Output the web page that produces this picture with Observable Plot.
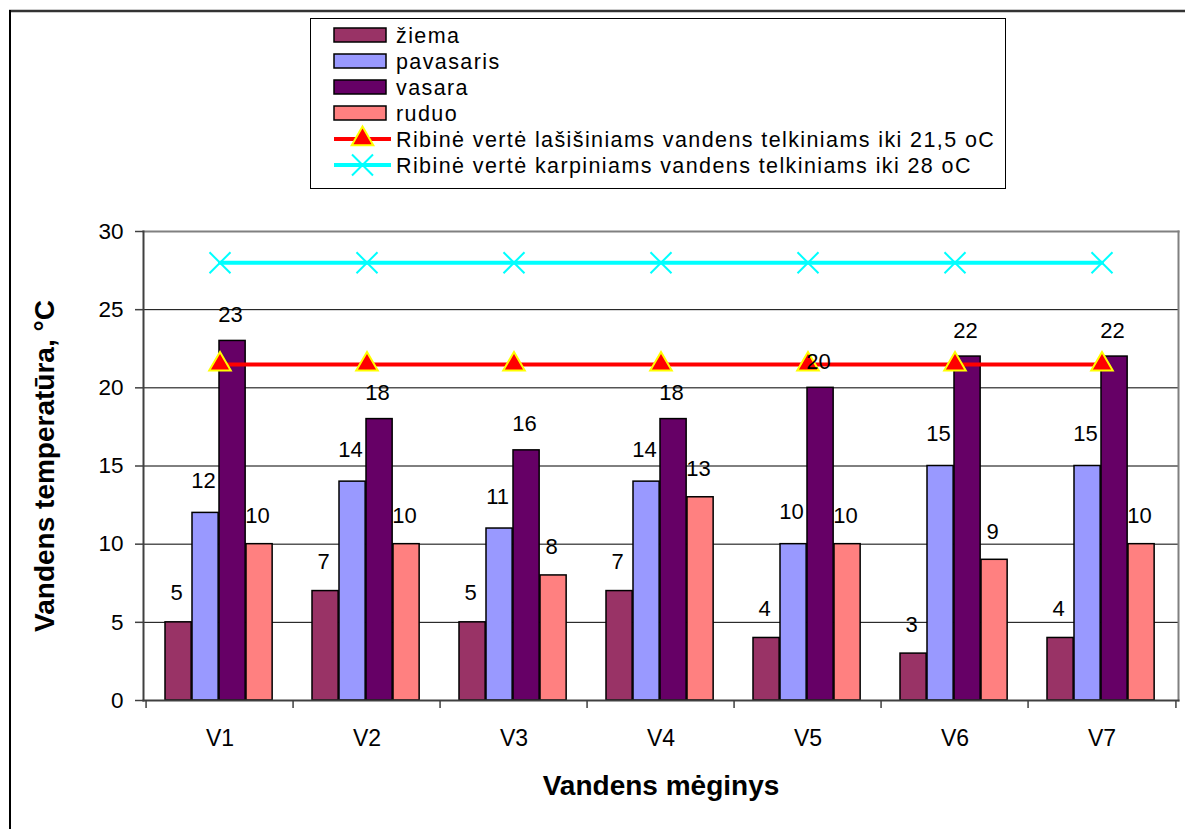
<!DOCTYPE html>
<html>
<head>
<meta charset="utf-8">
<script src="https://cdn.jsdelivr.net/npm/d3@7"></script>
<script src="https://cdn.jsdelivr.net/npm/@observablehq/plot@0.6"></script>
<style>
  html, body { margin: 0; padding: 0; background: #fff; }
  #wrap { position: relative; width: 1185px; height: 829px; overflow: hidden; font-family: "Liberation Sans", Arial, sans-serif; }
  #wrap svg { position: absolute; left: 0; top: 0; }
</style>
</head>
<body>
<div id="wrap"></div>
<script>
// ---- data ----
const categories = ["V1", "V2", "V3", "V4", "V5", "V6", "V7"];
const seasons = ["žiema", "pavasaris", "vasara", "ruduo"];
const ziema = [5, 7, 5, 7, 4, 3, 4];
const pavasaris = [12, 14, 11, 14, 10, 15, 15];
const vasara = [23, 18, 16, 18, 20, 22, 22];
const ruduo = [10, 10, 8, 13, 10, 9, 10];
const salmonLimit = 21.5;
const carpLimit = 28;
const salmonLabel = "Ribinė vertė lašišiniams vandens telkiniams iki 21,5 oC";
const carpLabel = "Ribinė vertė karpiniams vandens telkiniams iki 28 oC";
const yTicks = [0, 5, 10, 15, 20, 25, 30];
const yTitle = "Vandens temperatūra, °C";
const xTitle = "Vandens mėginys";

// ---- styles ----
const seasonColors = ["#993366", "#9999FF", "#660066", "#FF8080"];
const labelDy = [-29, -32, -26, -28];
const W = 1185, H = 829, mL = 143, mR = 7, mT = 231, mB = 129;
const bw = (W - mL - mR) / categories.length;
const barStart = 19, barW = 27;

const seriesValues = [ziema, pavasaris, vasara, ruduo];
const seriesData = seriesValues.map((vals, s) =>
  categories.map((c, i) => ({ cat: c, season: seasons[s], value: vals[i] })));
const salmonData = categories.map(c => ({ cat: c, value: salmonLimit }));
const carpData = categories.map(c => ({ cat: c, value: carpLimit }));

const barMarks = [];
const labelMarks = [];
seriesData.forEach((data, s) => {
  const left = barStart + barW * s;
  barMarks.push(Plot.barY(data, {
    x: "cat", y: "value",
    fill: seasonColors[s], stroke: "#000", strokeWidth: 1.5,
    insetLeft: left, insetRight: bw - left - barW
  }));
  labelMarks.push(Plot.text(data, {
    x: "cat", y: "value", text: d => String(d.value),
    dx: left + barW / 2 - bw / 2 - 2, dy: labelDy[s],
    lineAnchor: "middle", fontSize: 22, fill: "#000"
  }));
});

const chart = Plot.plot({
  width: W, height: H,
  marginLeft: mL, marginRight: mR, marginTop: mT, marginBottom: mB,
  style: { fontFamily: "Liberation Sans, Arial, sans-serif", background: "transparent", color: "#000" },
  x: { domain: categories, padding: 0, axis: null },
  y: { domain: [0, 30], axis: null },
  marks: [
    Plot.ruleY([5, 10, 15, 20, 25], { stroke: "#000", strokeWidth: 1 }),
    Plot.frame({ anchor: "top", stroke: "#808080", strokeWidth: 2 }),
    Plot.frame({ anchor: "right", stroke: "#808080", strokeWidth: 2 }),
    ...barMarks,
    Plot.frame({ anchor: "left", stroke: "#404040", strokeWidth: 2 }),
    Plot.frame({ anchor: "bottom", stroke: "#404040", strokeWidth: 2 }),
    Plot.axisY({ ticks: yTicks, tickSize: 8, tickPadding: 12, fontSize: 22.5, label: null, stroke: "#404040", strokeWidth: 1.5 }),
    Plot.axisX({ tickSize: 0, tickPadding: 29, fontSize: 23, label: null }),
    Plot.axisX({ tickSize: 8, text: null, dx: -bw / 2, label: null, stroke: "#404040", strokeWidth: 1.5 }),
    Plot.axisX({ ticks: [categories[categories.length - 1]], tickSize: 8, text: null, dx: bw / 2, label: null, stroke: "#404040", strokeWidth: 1.5 }),
    Plot.lineY(carpData, { x: "cat", y: "value", stroke: "#00FFFF", strokeWidth: 4 }),
    Plot.dot(carpData, { x: "cat", y: "value", symbol: "times", r: 9.6, stroke: "#00FFFF", strokeWidth: 2 }),
    Plot.lineY(salmonData, { x: "cat", y: "value", stroke: "#FF0000", strokeWidth: 4 }),
    Plot.dot(salmonData, { x: "cat", y: "value", symbol: "triangle", r: 8, fill: "#FF0000", stroke: "#FFFF00", strokeWidth: 2 }),
    ...labelMarks,
    Plot.text([yTitle], { frameAnchor: "left", textAnchor: "middle", dx: -98, rotate: -90, fontSize: 28, fontWeight: "bold", fill: "#000", lineAnchor: "middle" }),
    Plot.text([xTitle], { frameAnchor: "bottom", textAnchor: "middle", dy: 86, fontSize: 28, fontWeight: "bold", fill: "#000", lineAnchor: "middle" })
  ]
});
document.getElementById("wrap").appendChild(chart);

// ---- legend and outer frame overlay ----
const ov = d3.select("#wrap").append("svg").attr("width", W).attr("height", H)
  .style("pointer-events", "none").style("font-family", "Liberation Sans, Arial, sans-serif");
ov.append("line").attr("x1", 9).attr("x2", W).attr("y1", 11).attr("y2", 11).attr("stroke", "#333").attr("stroke-width", 2.5);
ov.append("line").attr("x1", 10).attr("x2", 10).attr("y1", 10).attr("y2", H).attr("stroke", "#000").attr("stroke-width", 2);
ov.append("rect").attr("x", 310.5).attr("y", 18.5).attr("width", 695).attr("height", 170)
  .attr("fill", "#fff").attr("stroke", "#000").attr("stroke-width", 1);
const legendItems = [
  ...seasons.map((s, i) => ({ type: "bar", label: s, color: seasonColors[i] })),
  { type: "salmon", label: salmonLabel },
  { type: "carp", label: carpLabel }
];
legendItems.forEach((it, i) => {
  const cy = 35 + 26 * i;
  const g = ov.append("g");
  if (it.type === "bar") {
    g.append("rect").attr("x", 334).attr("y", cy - 7).attr("width", 52).attr("height", 14)
      .attr("fill", it.color).attr("stroke", "#000").attr("stroke-width", 1.5);
  } else if (it.type === "salmon") {
    g.append("line").attr("x1", 334).attr("x2", 391).attr("y1", cy).attr("y2", cy).attr("stroke", "#FF0000").attr("stroke-width", 4);
    g.append("path").attr("transform", `translate(362.5,${cy})`)
      .attr("d", d3.symbol(d3.symbolTriangle, Math.PI * 64)()).attr("fill", "#FF0000").attr("stroke", "#FFFF00").attr("stroke-width", 2);
  } else {
    g.append("line").attr("x1", 334).attr("x2", 391).attr("y1", cy).attr("y2", cy).attr("stroke", "#00FFFF").attr("stroke-width", 4);
    g.append("path").attr("transform", `translate(362.5,${cy})`)
      .attr("d", d3.symbol(d3.symbolTimes, Math.PI * 92)()).attr("fill", "none").attr("stroke", "#00FFFF").attr("stroke-width", 2);
  }
  g.append("text").attr("x", 396).attr("y", cy).attr("dy", "0.36em")
    .attr("font-size", 21.5).attr("letter-spacing", "1.4px").attr("fill", "#000").text(it.label);
});
</script>
</body>
</html>
